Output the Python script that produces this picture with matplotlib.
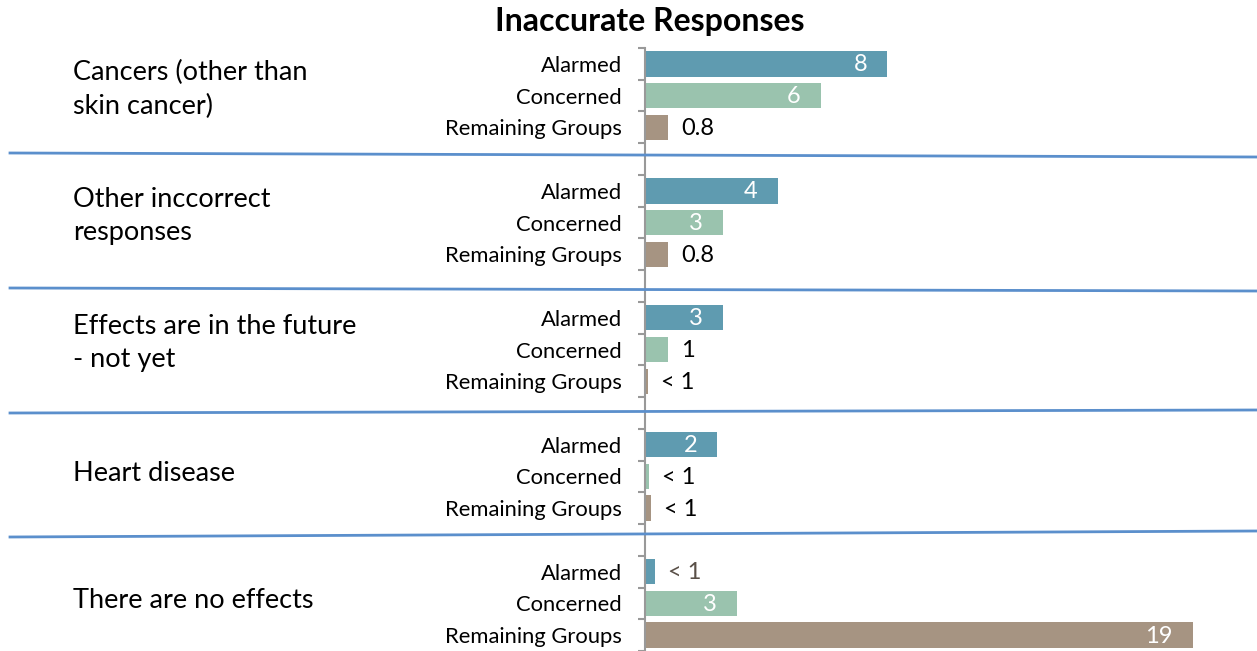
import matplotlib.pyplot as plt
import matplotlib.transforms as mtrans
import numpy as np

plt.rcParams['font.family'] = ['Lato', 'DejaVu Sans']

groups = ["Cancers (other than\nskin cancer)", "Other inccorrect\nresponses",
          "Effects are in the future\n- not yet", "Heart disease", "There are no effects"]
series = ["Alarmed", "Concerned", "Remaining Groups"]
alarmed = [8.4, 4.6, 2.7, 2.5, 0.35]
concerned = [6.1, 2.7, 0.8, 0.14, 3.2]
remaining = [0.8, 0.8, 0.1, 0.2, 19]
alarmed_lbl = ["8", "4", "3", "2", "< 1"]
concerned_lbl = ["6", "3", "1", "< 1", "3"]
remaining_lbl = ["0.8", "0.8", "< 1", "< 1", "19"]

colors = ['#5f9bb0', '#9ac3ae', '#a69482']

W, H = 1257, 651
fig = plt.figure(figsize=(W / 100, H / 100), dpi=100)
ax = fig.add_axes([645 / W, 0, (W - 645) / W, (H - 48) / H])

n_slots = len(groups) * 4 - 1
ax.set_ylim(n_slots, 0)
ax.set_xlim(0, (W - 645) / 28.84)

ypos, labels = [], []
values = [alarmed, concerned, remaining]
texts = [alarmed_lbl, concerned_lbl, remaining_lbl]
for g in range(len(groups)):
    for s in range(3):
        y = g * 4 + s + 0.5
        v = values[s][g]
        ax.barh(y, v, height=0.8, color=colors[s])
        ypos.append(y)
        labels.append(series[s])
        t = texts[s][g]
        if v >= 2:
            ax.annotate(t, (v, y), xytext=(-20, -1), textcoords='offset pixels',
                        ha='right', va='center', color='white', fontsize=17)
        else:
            c = '#5a5048' if (g == 4 and s == 0) else 'black'
            ax.annotate(t, (v, y), xytext=(13, -1), textcoords='offset pixels',
                        ha='left', va='center', color=c, fontsize=17)

ax.set_yticks(ypos)
ax.set_yticklabels(labels, fontsize=15.8)
ax.set_yticks(np.arange(0, n_slots + 1), minor=True)
ax.tick_params(axis='y', which='major', length=0, pad=16.5)
ax.tick_params(axis='y', which='minor', length=5, width=1.5, color='#999999')
ax.set_xticks([])
for side in ['top', 'right', 'bottom']:
    ax.spines[side].set_visible(False)
ax.spines['left'].set_color('#999999')
ax.spines['left'].set_linewidth(1.5)

# group labels on the left
trans = mtrans.blended_transform_factory(fig.transFigure, ax.transData)
for g, name in enumerate(groups):
    shift = 0.2 if '\n' in name else 0.1
    ax.text(73 / W, g * 4 + 1.5 - shift, name, transform=trans, ha='left', va='center',
            fontsize=19.5, linespacing=1.42)

# separator lines (slightly slanted)
seps = [(153, 157), (288, 291), (413, 410), (537, 531)]
for yl, yr in seps:
    fig.add_artist(plt.Line2D([10 / W, 1.0], [1 - yl / H, 1 - yr / H],
                              color='#5b8fcc', lw=2, transform=fig.transFigure))

fig.text(650 / W, 1 - 22 / H, "Inaccurate Responses", ha='center', va='center',
         fontsize=23, fontweight='bold')

fig.savefig('out.png', dpi=100)
